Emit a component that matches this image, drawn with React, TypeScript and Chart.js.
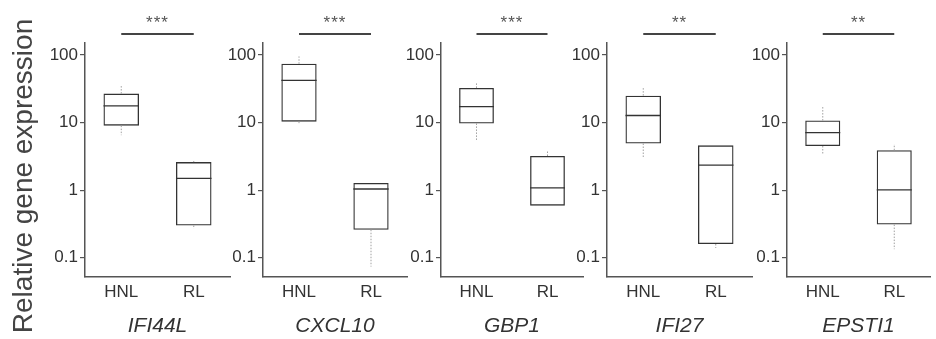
import React, { useEffect, useRef } from 'react';
import { Chart, registerables } from 'chart.js';

Chart.register(...registerables);

// ---- data ----
const genes = ['IFI44L', 'CXCL10', 'GBP1', 'IFI27', 'EPSTI1'];
const groups = ['HNL', 'RL'];
const significance = ['***', '***', '***', '**', '**'];
// per gene: [HNL, RL]
const whiskerLow = [[6.5, 0.27], [9.4, 0.074], [5.5, 0.59], [3.0, 0.14], [3.35, 0.134]];
const q1 = [[9.0, 0.30], [10.3, 0.26], [9.7, 0.59], [4.9, 0.16], [4.5, 0.31]];
const median = [[17.6, 1.49], [42, 1.04], [17.2, 1.08], [12.7, 2.34], [7.1, 1.01]];
const q3 = [[26.8, 2.6], [74, 1.28], [32.5, 3.2], [25, 4.6], [10.7, 3.9]];
const whiskerHigh = [[35.5, 2.7], [95, 1.28], [38, 3.8], [33.5, 4.6], [17.6, 4.8]];
const yTickValues = [0.1, 1, 10, 100];
const yTickLabels = ['0.1', '1', '10', '100'];
const yMin = 0.052;
const yMax = 150;
const yTitle = 'Relative gene expression';

// ---- layout ----
const FONT = "'Liberation Sans', Arial, Helvetica, sans-serif";
const axisStart = [85, 263, 441, 607, 787];
const axisWidth = [145, 144, 142, 145, 143];
const H = 339;
const TOP = 43;
const XAXIS_H = 62;

const boxExtras = {
  id: 'boxExtras',
  afterDatasetsDraw(chart: any, _args: any, opts: any) {
    const g = opts.gene;
    const { ctx } = chart;
    const y = chart.scales.y;
    const meta = chart.getDatasetMeta(0);
    meta.data.forEach((bar: any, i: number) => {
      const half = bar.width / 2;
      ctx.save();
      // whiskers
      ctx.strokeStyle = '#a0a0a0';
      ctx.lineWidth = 1;
      ctx.setLineDash([1.5, 1.5]);
      const pQ3 = y.getPixelForValue(q3[g][i]);
      const pHi = y.getPixelForValue(whiskerHigh[g][i]);
      const pQ1 = y.getPixelForValue(q1[g][i]);
      const pLo = y.getPixelForValue(whiskerLow[g][i]);
      ctx.beginPath();
      if (pHi < pQ3 - 0.5) {
        ctx.moveTo(bar.x, pQ3);
        ctx.lineTo(bar.x, pHi);
      }
      if (pLo > pQ1 + 0.5) {
        ctx.moveTo(bar.x, pQ1);
        ctx.lineTo(bar.x, pLo);
      }
      ctx.stroke();
      // median
      ctx.setLineDash([]);
      ctx.strokeStyle = '#333';
      ctx.lineWidth = 1.3;
      const pm = y.getPixelForValue(median[g][i]);
      ctx.beginPath();
      ctx.moveTo(bar.x - half, pm);
      ctx.lineTo(bar.x + half, pm);
      ctx.stroke();
      ctx.restore();
    });
  },
};

const sigBar = {
  id: 'sigBar',
  afterDraw(chart: any, _args: any, opts: any) {
    const g = opts.gene;
    const { ctx, chartArea } = chart;
    const x = chart.scales.x;
    const x0 = x.getPixelForValue(0);
    const x1 = x.getPixelForValue(1);
    ctx.save();
    ctx.strokeStyle = '#444';
    ctx.lineWidth = 1.8;
    ctx.beginPath();
    ctx.moveTo(x0, chartArea.top - 9);
    ctx.lineTo(x1, chartArea.top - 9);
    ctx.stroke();
    ctx.fillStyle = '#555';
    ctx.font = `17px ${FONT}`;
    ctx.textAlign = 'center';
    ctx.textBaseline = 'middle';
    (ctx as any).letterSpacing = '1px';
    ctx.fillText(significance[g], (x0 + x1) / 2, chartArea.top - 20);
    ctx.restore();
    if (opts.showYTitle) {
      ctx.save();
      ctx.fillStyle = '#444';
      ctx.font = `28px ${FONT}`;
      ctx.textAlign = 'center';
      ctx.textBaseline = 'middle';
      ctx.translate(chartArea.left - 61, (chartArea.top + chartArea.bottom) / 2 + 16);
      ctx.rotate(-Math.PI / 2);
      ctx.fillText(yTitle, 0, 0);
      ctx.restore();
    }
  },
};

function Panel({ g }: { g: number }) {
  const ref = useRef<HTMLCanvasElement | null>(null);
  const yw = g === 0 ? 85 : 55;
  const left = axisStart[g] - yw;
  const width = yw + axisWidth[g] + 2;

  useEffect(() => {
    if (!ref.current) return;
    const chart = new Chart(ref.current, {
      type: 'bar',
      data: {
        labels: groups,
        datasets: [
          {
            data: groups.map((_, i) => [q1[g][i], q3[g][i]]) as any,
            backgroundColor: 'rgba(0,0,0,0)',
            borderColor: '#333',
            borderWidth: 1.3,
            borderSkipped: false,
            barPercentage: 0.49,
            categoryPercentage: 1,
          },
        ],
      },
      options: {
        responsive: false,
        animation: false,
        events: [],
        devicePixelRatio: 1,
        layout: { padding: { top: TOP, left: 0, right: 2, bottom: 0 } },
        plugins: {
          legend: { display: false },
          tooltip: { enabled: false },
          boxExtras: { gene: g },
          sigBar: { gene: g, showYTitle: g === 0 },
        } as any,
        scales: {
          x: {
            type: 'category',
            offset: true,
            grid: { display: false },
            border: { display: true, color: '#555', width: 1.5 },
            ticks: { color: '#333', padding: -3, font: { family: FONT, size: 17 } },
            title: {
              display: true,
              text: genes[g],
              color: '#333',
              padding: 0,
              font: { family: FONT, size: 21, style: 'italic' },
            },
            afterFit: (s: any) => {
              s.height = XAXIS_H;
            },
          },
          y: {
            type: 'logarithmic',
            min: yMin,
            max: yMax,
            grid: { drawOnChartArea: false, drawTicks: true, tickLength: 5, color: '#555', lineWidth: 1.2 },
            border: { display: true, color: '#555', width: 1.5 },
            afterBuildTicks: (s: any) => {
              s.ticks = yTickValues.map((v) => ({ value: v }));
            },
            ticks: {
              autoSkip: false,
              color: '#333',
              padding: 2,
              font: { family: FONT, size: 17 },
              callback: (_v: any, i: number) => yTickLabels[i],
            },
            afterFit: (s: any) => {
              s.width = yw;
            },
          },
        },
      },
      plugins: [boxExtras, sigBar],
    });
    return () => chart.destroy();
  }, [g]);

  return (
    <canvas
      ref={ref}
      width={width}
      height={H}
      style={{ position: 'absolute', left, top: 0, width, height: H }}
    />
  );
}

export default function App() {
  return (
    <div style={{ position: 'absolute', left: 0, top: 0, width: 936, height: H, background: '#fff' }}>
      {genes.map((_, g) => (
        <Panel key={g} g={g} />
      ))}
    </div>
  );
}
